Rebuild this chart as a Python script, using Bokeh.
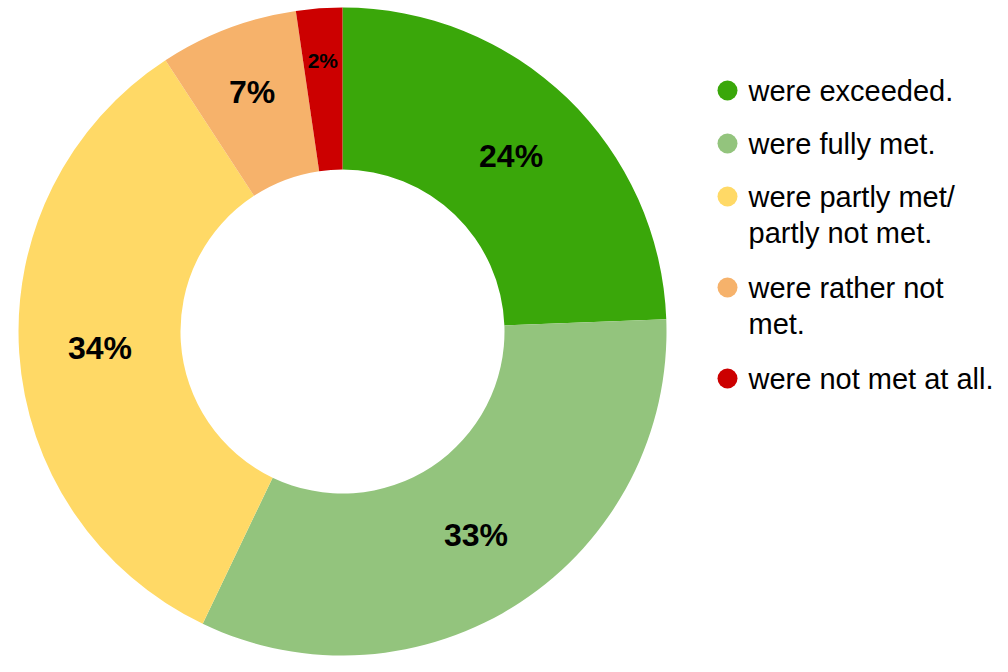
import math
from bokeh.plotting import figure
from bokeh.models import Range1d, ColumnDataSource
from bokeh.core.properties import value
from bokeh.embed import file_html
from bokeh.resources import INLINE

categories = ["were exceeded.", "were fully met.", "were partly met/\npartly not met.",
              "were rather not\nmet.", "were not met at all."]
shares = [24.4, 32.7, 33.7, 6.9, 2.3]
pct_labels = ["24%", "33%", "34%", "7%", "2%"]
colors = ["#3aa70a", "#93c47d", "#ffd966", "#f6b26b", "#cc0000"]

W, H = 992, 656
# data coordinates: x = picture pixel, y = 672 - picture pixel
p = figure(width=W, height=H, output_backend="svg", toolbar_location=None,
           x_range=Range1d(0, W), y_range=Range1d(672 - H, 672),
           min_border=0, outline_line_color=None)
p.axis.visible = False
p.grid.visible = False
p.background_fill_color = "white"
p.border_fill_color = "white"

cx, cy = 342, 672 - 331
r_out, r_in = 324, 162

total = sum(shares)
starts, ends, lx, ly, fs = [], [], [], [], []
cum = 0.0
for s in shares:
    a0 = math.pi / 2 - 2 * math.pi * cum / total
    cum += s
    a1 = math.pi / 2 - 2 * math.pi * cum / total
    starts.append(a0)
    ends.append(a1)
    mid = (a0 + a1) / 2
    frac = s / total
    rl = (r_in + r_out) / 2 if frac > 0.1 else (256 if frac > 0.04 else 272)
    lx.append(cx + rl * math.cos(mid))
    ly.append(cy + rl * math.sin(mid))
    fs.append("32px" if frac > 0.04 else "21px")

src = ColumnDataSource(dict(start=starts, end=ends, color=colors, lx=lx, ly=ly,
                            lab=pct_labels, fs=fs))
p.annular_wedge(x=cx, y=cy, inner_radius=r_in, outer_radius=r_out,
                start_angle="start", end_angle="end", direction="clock",
                fill_color="color", line_color=None, source=src)
p.text(x="lx", y="ly", text="lab", text_font=value("Liberation Sans"),
       text_font_style="bold", text_font_size="fs", text_align="center",
       text_baseline="middle", text_color="black", source=src)

# legend
y = 90
mx, my, mc, tx, ty, tt = [], [], [], [], [], []
for cat, col in zip(categories, colors):
    lines = cat.split("\n")
    mx.append(727)
    my.append(672 - y)
    mc.append(col)
    for i, ln in enumerate(lines):
        tx.append(748)
        ty.append(672 - (y + 36 * i))
        tt.append(ln)
    y += 36 * (len(lines) - 1) + 55
    if len(lines) == 1:
        y -= 2

p.scatter(x=mx, y=my, size=20, fill_color=mc, line_color=None)
p.text(x=tx, y=ty, text=tt, text_font=value("Liberation Sans"),
       text_font_size="29px", text_align="left", text_baseline="middle",
       text_color="black")

open("out.html", "w").write(file_html(p, INLINE))
